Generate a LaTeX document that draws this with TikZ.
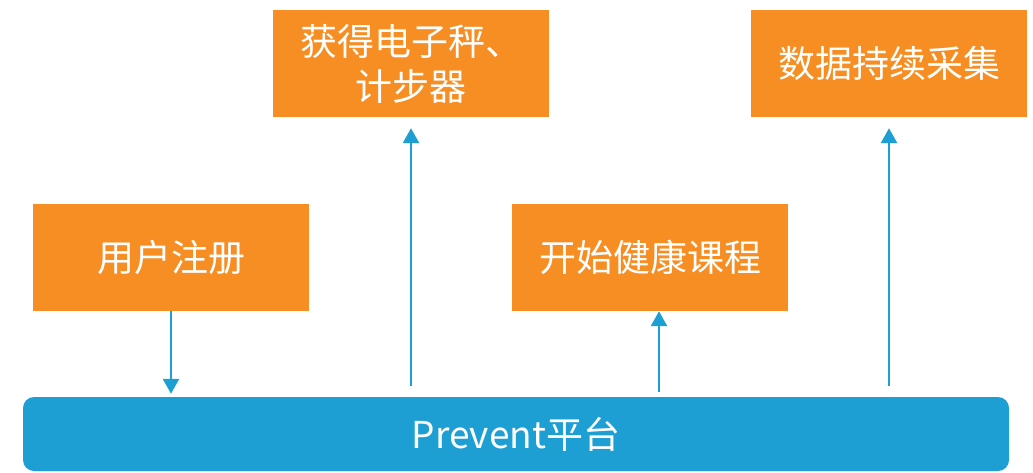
\documentclass[tikz,border=0pt]{standalone}
\usepackage{fontspec}
\setmainfont{Noto Sans CJK SC}
\usepackage{tikz}
\usetikzlibrary{positioning,arrows.meta}
\definecolor{stepOrange}{RGB}{247,142,35}
\definecolor{platBlue}{RGB}{30,159,212}

\begin{document}
\begin{tikzpicture}[x=1pt,y=1pt,
    >={Triangle[width=16pt,length=15pt]},
    stepbox/.style={fill=stepOrange, text=white, minimum width=276pt,
      minimum height=107pt, inner sep=0pt, align=center,
      font=\fontsize{37}{45}\selectfont},
    platbox/.style={fill=platBlue, text=white, rounded corners=11pt,
      minimum width=986pt, minimum height=74pt, inner sep=0pt,
      font=\fontsize{37}{45}\selectfont},
    flow/.style={->, platBlue, line width=2.6pt}]
  \useasboundingbox (0,0) rectangle (1033,472);

  % --- Platform (bottom) ---
  \node[platbox] (plat) at (516,38) {Prevent平台};

  % --- Steps ---
  \node[stepbox] (reg) at (171,214.5) {用户注册};
  \node[stepbox] (scale) at (411,408.5) {获得电子秤、\\计步器};
  \node[stepbox] (course) at (650,214.5) {开始健康课程};
  \node[stepbox] (collect) at (889,408.5) {数据持续采集};

  % Anchors on the platform edge
  \coordinate (c1) at ([xshift=9pt]course.south);

  % --- Connectors ---
  \draw[flow, shorten >=3pt] (reg.south) -- (reg.south |- plat.north);
  \draw[flow, shorten <=11pt, shorten >=11pt] (scale.south |- plat.north) -- (scale.south);
  \draw[flow, shorten <=5pt] (c1 |- plat.north) -- (c1);
  \draw[flow, shorten <=11pt, shorten >=11pt] (collect.south |- plat.north) -- (collect.south);
\end{tikzpicture}
\end{document}
